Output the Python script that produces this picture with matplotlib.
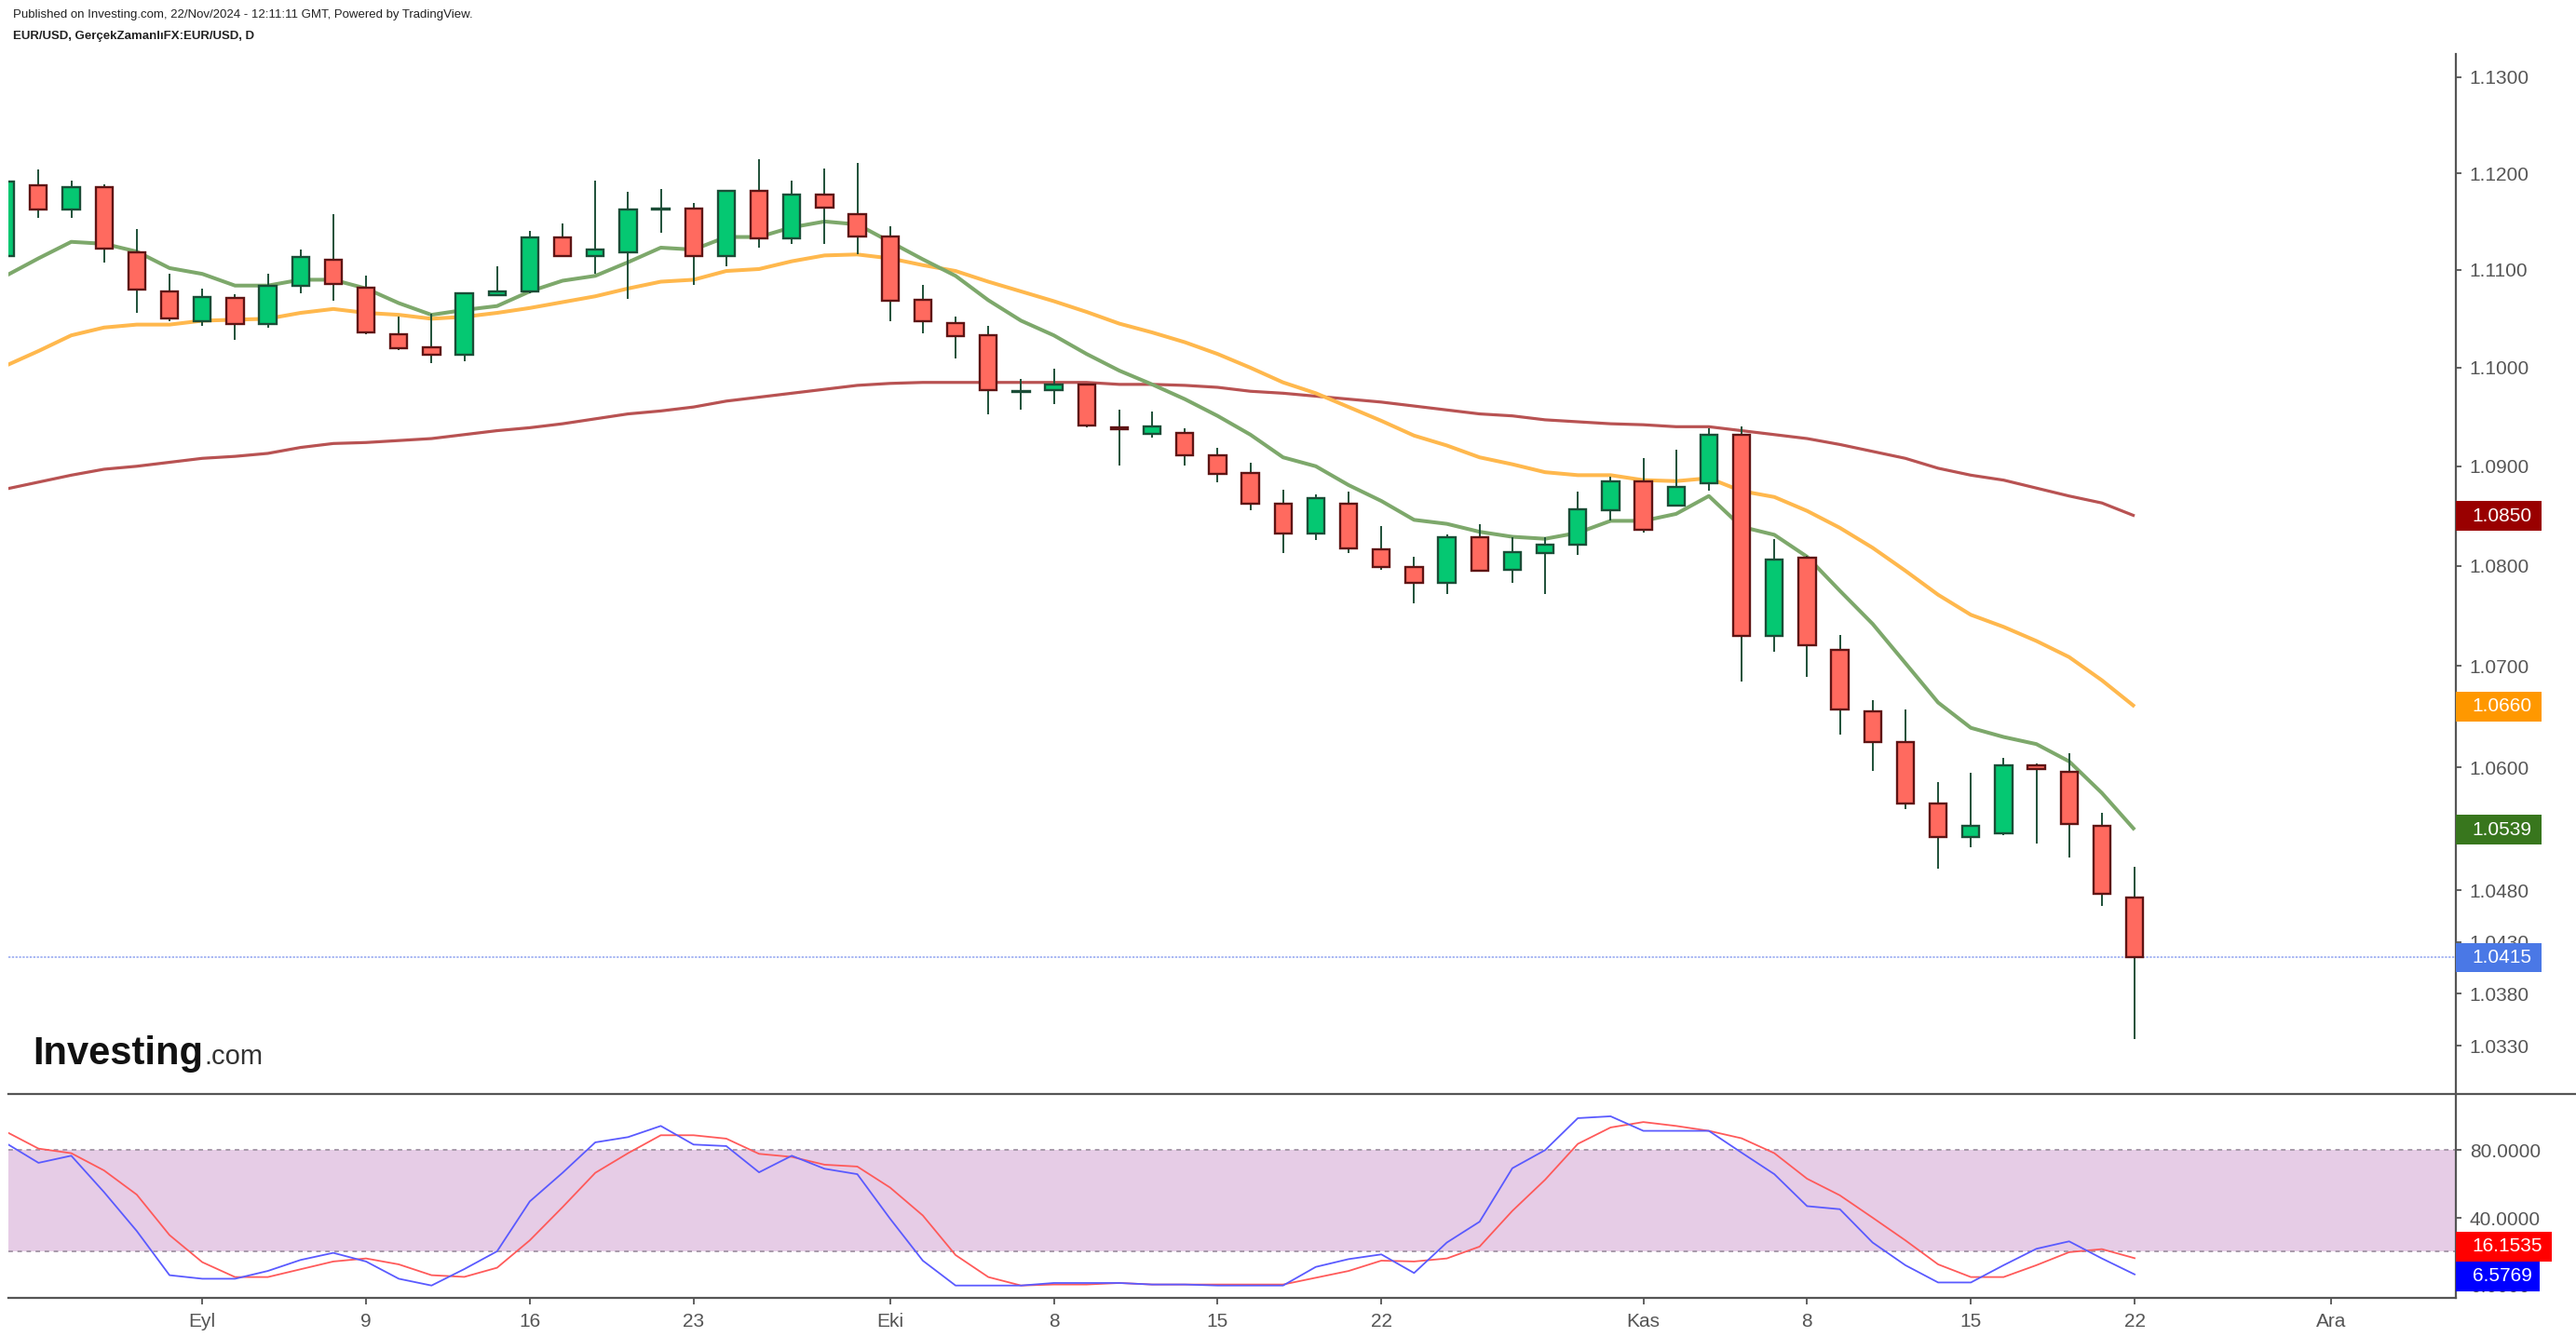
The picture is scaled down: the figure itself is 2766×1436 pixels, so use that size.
import numpy as np
import pandas as pd
import matplotlib
matplotlib.use('Agg')
from matplotlib import pyplot as plt
from matplotlib import font_manager
from matplotlib.patches import Rectangle
from matplotlib.lines import Line2D
from matplotlib.ticker import FixedLocator, FuncFormatter, NullLocator

names = {f.name for f in font_manager.fontManager.ttflist}
narrow = 'Liberation Sans Narrow' if 'Liberation Sans Narrow' in names else 'Liberation Sans'
plt.rcParams['font.family'] = ['Liberation Sans', 'DejaVu Sans']

# EUR/USD daily candles, 23 Aug - 22 Nov 2024 (weekdays)
opens = [1.1114, 1.1187, 1.1162, 1.1186, 1.1118, 1.1078,
         1.1047, 1.1071, 1.1045, 1.1084, 1.1111,
         1.1082, 1.1034, 1.1021, 1.1013, 1.1074,
         1.1078, 1.1134, 1.1114, 1.1118, 1.1162,
         1.1163, 1.1114, 1.1182, 1.1133, 1.1178,
         1.1158, 1.1135, 1.1069, 1.1046, 1.1033,
         1.0975, 1.0977, 1.0983, 1.0939, 1.0933,
         1.0934, 1.0911, 1.0893, 1.0862, 1.0832,
         1.0862, 1.0816, 1.0799, 1.0783, 1.0829,
         1.0796, 1.0813, 1.0821, 1.0856, 1.0885,
         1.0860, 1.0883, 1.0932, 1.0730, 1.0808,
         1.0716, 1.0655, 1.0625, 1.0565, 1.0532,
         1.0536, 1.0602, 1.0596, 1.0543, 1.0473]
highs = [1.1200, 1.1204, 1.1192, 1.1188, 1.1142, 1.1096,
         1.1081, 1.1075, 1.1096, 1.1121, 1.1158,
         1.1094, 1.1052, 1.1055, 1.1077, 1.1104,
         1.1140, 1.1148, 1.1192, 1.1181, 1.1184,
         1.1169, 1.1183, 1.1215, 1.1192, 1.1205,
         1.1211, 1.1145, 1.1085, 1.1052, 1.1043,
         1.0989, 1.0999, 1.0984, 1.0957, 1.0955,
         1.0938, 1.0919, 1.0904, 1.0876, 1.0872,
         1.0874, 1.0840, 1.0809, 1.0831, 1.0842,
         1.0829, 1.0829, 1.0874, 1.0889, 1.0908,
         1.0917, 1.0938, 1.0940, 1.0827, 1.0810,
         1.0731, 1.0666, 1.0657, 1.0586, 1.0595,
         1.0609, 1.0604, 1.0614, 1.0556, 1.0503]
lows = [1.1105, 1.1154, 1.1154, 1.1108, 1.1056, 1.1047,
        1.1043, 1.1028, 1.1041, 1.1076, 1.1068,
        1.1034, 1.1018, 1.1005, 1.1007, 1.1074,
        1.1076, 1.1113, 1.1096, 1.1070, 1.1138,
        1.1085, 1.1104, 1.1123, 1.1127, 1.1127,
        1.1116, 1.1047, 1.1035, 1.1009, 1.0953,
        1.0957, 1.0963, 1.0939, 1.0901, 1.0929,
        1.0901, 1.0884, 1.0856, 1.0813, 1.0826,
        1.0813, 1.0796, 1.0762, 1.0772, 1.0795,
        1.0783, 1.0772, 1.0811, 1.0845, 1.0833,
        1.0860, 1.0875, 1.0685, 1.0714, 1.0689,
        1.0632, 1.0597, 1.0559, 1.0501, 1.0522,
        1.0534, 1.0526, 1.0512, 1.0465, 1.0337]
closes = [1.1191, 1.1162, 1.1186, 1.1122, 1.1080, 1.1050,
          1.1072, 1.1045, 1.1084, 1.1113, 1.1086,
          1.1036, 1.1020, 1.1013, 1.1076, 1.1078,
          1.1134, 1.1114, 1.1121, 1.1162, 1.1163,
          1.1114, 1.1182, 1.1133, 1.1178, 1.1164,
          1.1135, 1.1068, 1.1047, 1.1032, 1.0977,
          1.0976, 1.0983, 1.0941, 1.0937, 1.0940,
          1.0911, 1.0892, 1.0862, 1.0832, 1.0868,
          1.0817, 1.0799, 1.0783, 1.0829, 1.0795,
          1.0814, 1.0821, 1.0857, 1.0885, 1.0836,
          1.0879, 1.0932, 1.0730, 1.0806, 1.0721,
          1.0657, 1.0625, 1.0565, 1.0532, 1.0543,
          1.0602, 1.0598, 1.0545, 1.0477, 1.0415]

# moving averages
ma_short = [1.1094, 1.1112, 1.1129, 1.1127, 1.1119, 1.1102,
            1.1096, 1.1084, 1.1084, 1.1090, 1.1090,
            1.1081, 1.1066, 1.1054, 1.1059, 1.1063,
            1.1078, 1.1089, 1.1094, 1.1108, 1.1123,
            1.1121, 1.1134, 1.1134, 1.1144, 1.1150,
            1.1147, 1.1129, 1.1111, 1.1094, 1.1069,
            1.1048, 1.1033, 1.1014, 1.0997, 1.0983,
            1.0968, 1.0951, 1.0932, 1.0909, 1.0900,
            1.0881, 1.0865, 1.0846, 1.0842, 1.0834,
            1.0829, 1.0827, 1.0833, 1.0845, 1.0845,
            1.0852, 1.0870, 1.0839, 1.0831, 1.0809,
            1.0775, 1.0742, 1.0703, 1.0664, 1.0639,
            1.0630, 1.0623, 1.0606, 1.0575, 1.0539]
ma_mid = [1.1002, 1.1017, 1.1033, 1.1041, 1.1044, 1.1044,
          1.1048, 1.1049, 1.1050, 1.1056, 1.1060,
          1.1056, 1.1054, 1.1050, 1.1052, 1.1056,
          1.1061, 1.1067, 1.1073, 1.1081, 1.1088,
          1.1090, 1.1099, 1.1101, 1.1109, 1.1115,
          1.1116, 1.1112, 1.1105, 1.1099, 1.1088,
          1.1078, 1.1068, 1.1057, 1.1045, 1.1036,
          1.1026, 1.1014, 1.1000, 1.0985, 1.0974,
          1.0960, 1.0946, 1.0931, 1.0921, 1.0909,
          1.0902, 1.0894, 1.0891, 1.0891, 1.0886,
          1.0885, 1.0888, 1.0875, 1.0869, 1.0855,
          1.0838, 1.0818, 1.0795, 1.0771, 1.0751,
          1.0739, 1.0725, 1.0709, 1.0686, 1.0660]
ma_long = [1.0877, 1.0884, 1.0891, 1.0897, 1.0900, 1.0904,
           1.0908, 1.0910, 1.0913, 1.0919, 1.0923,
           1.0924, 1.0926, 1.0928, 1.0932, 1.0936,
           1.0939, 1.0943, 1.0948, 1.0953, 1.0956,
           1.0960, 1.0966, 1.0970, 1.0974, 1.0978,
           1.0982, 1.0984, 1.0985, 1.0985, 1.0985,
           1.0985, 1.0985, 1.0985, 1.0983, 1.0983,
           1.0982, 1.0980, 1.0976, 1.0974, 1.0971,
           1.0968, 1.0965, 1.0961, 1.0957, 1.0953,
           1.0951, 1.0947, 1.0945, 1.0943, 1.0942,
           1.0940, 1.0940, 1.0936, 1.0932, 1.0928,
           1.0922, 1.0915, 1.0908, 1.0898, 1.0891,
           1.0886, 1.0878, 1.0870, 1.0863, 1.0850]

# stochastic %K / %D
stoch_k = [84.2, 72.5, 76.7, 55.2, 32.2, 6.1,
           4.0, 4.0, 8.6, 15.1, 19.3,
           14.2, 4.0, 0.0, 9.7, 20.2,
           49.7, 66.6, 84.6, 87.7, 94.3,
           83.3, 82.4, 66.9, 76.7, 69.0,
           65.8, 39.5, 14.7, 0.0, 0.0,
           0.0, 1.5, 1.5, 1.5, 0.6,
           0.6, 0.0, 0.0, 0.0, 11.0,
           15.6, 18.4, 7.4, 25.4, 37.7,
           69.3, 80.0, 98.9, 100.0, 91.4,
           91.4, 91.4, 78.5, 65.8, 46.9,
           45.1, 25.4, 12.0, 1.8, 1.8,
           12.0, 21.7, 26.1, 16.0, 6.5769]
stoch_d = [91.0, 80.9, 78.2, 68.0, 53.7, 29.8,
           13.8, 5.0, 5.0, 9.6, 14.2,
           16.0, 12.5, 6.1, 5.1, 10.5,
           26.7, 46.3, 66.6, 78.2, 88.8,
           88.8, 86.8, 77.8, 76.0, 71.4,
           70.3, 57.9, 41.4, 18.0, 5.0,
           0.0, 0.6, 0.6, 1.5, 0.6,
           0.6, 0.6, 0.6, 0.6, 4.6,
           8.6, 14.7, 14.2, 16.0, 23.0,
           44.1, 62.5, 83.7, 93.4, 96.6,
           94.3, 91.4, 87.0, 78.2, 63.1,
           53.3, 40.1, 26.7, 12.5, 5.0,
           5.0, 12.0, 19.7, 21.5, 16.1535]

price_ticks = [1.13, 1.12, 1.11, 1.10, 1.09, 1.08, 1.07, 1.06, 1.048, 1.043, 1.038, 1.033]
stoch_ticks = [80, 40, 0]
tick_dates = ['2024-09-02', '2024-09-09', '2024-09-16', '2024-09-23', '2024-10-01',
              '2024-10-08', '2024-10-15', '2024-10-22', '2024-11-01', '2024-11-08',
              '2024-11-15', '2024-11-22', '2024-12-02']
tick_labels = ['Eyl', '9', '16', '23', 'Eki', '8', '15', '22', 'Kas', '8', '15', '22', 'Ara']

# colours
up_fill, up_edge = '#05C872', '#1B4D37'
dn_fill, dn_edge = '#FF6A5F', '#5E1414'
wick_col = '#1E5038'
axis_col = '#555555'

days = pd.bdate_range('2024-08-23', periods=len(closes))
axis_days = pd.bdate_range('2024-08-23', '2024-12-31')
x = np.arange(len(days))
tick_pos = [axis_days.get_loc(pd.Timestamp(d)) for d in tick_dates]

o = np.array(opens)
h = np.array(highs)
l = np.array(lows)
c = np.array(closes)
up = c >= o

fig = plt.figure(figsize=(27.66, 14.36), dpi=100)
L, W = 0.00319, 0.95019
ax = fig.add_axes([L, 0.18204, W, 0.77737])
ax2 = fig.add_axes([L, 0.02952, W, 0.15252])

# ---- price panel
ax.set_yscale('log')
ax.axhline(closes[-1], color='#8FA3F0', lw=1.1, ls=(0, (1.5, 1)), zorder=1.5)
ax.plot(x, ma_long, color='#B85252', lw=2.3, zorder=2, solid_capstyle='butt')
ax.plot(x, ma_mid, color='#FFB84D', lw=2.9, zorder=2, solid_capstyle='butt')
ax.plot(x, ma_short, color='#7DA86B', lw=2.9, zorder=2, solid_capstyle='butt')
ax.vlines(x, l, h, color=wick_col, lw=1.4, zorder=3)
ax.bar(x[up], (c - o)[up], bottom=o[up], width=0.52, color=up_fill,
       edgecolor=up_edge, linewidth=1.7, zorder=4)
ax.bar(x[~up], (o - c)[~up], bottom=c[~up], width=0.52, color=dn_fill,
       edgecolor=dn_edge, linewidth=1.7, zorder=4)

ylo, yhi = 1.02845, 1.13241
ax.set_xlim(0.075, 74.81)
ax.set_ylim(ylo, yhi)
ax.yaxis.set_major_locator(FixedLocator(price_ticks))
ax.yaxis.set_minor_locator(NullLocator())
ax.yaxis.set_major_formatter(FuncFormatter(lambda v, p: f'{v:.4f}'))
ax.tick_params(axis='y', which='both', left=False, labelleft=False, right=True,
               labelright=True, length=4.5, width=1.3, pad=6, labelsize=15,
               color=axis_col, labelcolor=axis_col)
ax.tick_params(axis='x', bottom=False, labelbottom=False)
for s in ['left', 'top', 'bottom']:
    ax.spines[s].set_visible(False)
ax.spines['right'].set_color(axis_col)
ax.spines['right'].set_linewidth(1.6)


def frac_log(v):
    return (np.log(v) - np.log(ylo)) / (np.log(yhi) - np.log(ylo))


price_tags = [(ma_long[-1], '#990000'), (ma_mid[-1], '#FF9800'),
              (ma_short[-1], '#38761D'), (closes[-1], '#4A78E6')]
for val, col in price_tags:
    f = frac_log(val)
    ax.add_patch(Rectangle((1.0, f - 0.0141), 0.0349, 0.0282, transform=ax.transAxes,
                           facecolor=col, edgecolor='none', clip_on=False, zorder=5))
    ax.text(1.0067, f, f'{val:.4f}', transform=ax.transAxes, ha='left', va='center',
            color='white', fontsize=15, zorder=6, clip_on=False)

# ---- stochastic panel
slo, shi = -7.1, 113.4
ax2.axhspan(20, 80, facecolor='#E6CCE6', edgecolor='none', zorder=0)
for lvl in (80, 20):
    ax2.axhline(lvl, color='#A89AAB', lw=1.4, ls=(0, (2.5, 2.5)), zorder=1)
ax2.plot(x, stoch_d, color='#FF5A5A', lw=1.3, zorder=3)
ax2.plot(x, stoch_k, color='#5A5AFF', lw=1.3, zorder=3)
ax2.set_xlim(0.075, 74.81)
ax2.set_ylim(slo, shi)
ax2.yaxis.set_major_locator(FixedLocator(stoch_ticks))
ax2.yaxis.set_major_formatter(FuncFormatter(lambda v, p: f'{v:.4f}'))
ax2.tick_params(axis='y', left=False, labelleft=False, right=True, labelright=True,
                length=4.5, width=1.3, pad=6, labelsize=15, color=axis_col,
                labelcolor=axis_col)
ax2.set_xticks(tick_pos)
ax2.set_xticklabels(tick_labels)
ax2.tick_params(axis='x', length=5, width=1.3, pad=7, labelsize=15, color=axis_col,
                labelcolor=axis_col)
for s in ['left', 'top']:
    ax2.spines[s].set_visible(False)
for s in ['right', 'bottom']:
    ax2.spines[s].set_color(axis_col)
    ax2.spines[s].set_linewidth(1.6)

stoch_tags = [(stoch_d[-1], '#FF0000', 23.0, 0.039), (stoch_k[-1], '#0000FF', 5.5, 0.0343)]
for val, col, ypos, bw in stoch_tags:
    f = (ypos - slo) / (shi - slo)
    ax2.add_patch(Rectangle((1.0, f - 0.0729), bw, 0.1457, transform=ax2.transAxes,
                            facecolor=col, edgecolor='none', clip_on=False, zorder=5))
    ax2.text(1.0067, f, f'{val:.4f}', transform=ax2.transAxes, ha='left', va='center',
             color='white', fontsize=15, zorder=6, clip_on=False)

# separator between panels runs to the right edge
fig.add_artist(Line2D([L, 1.0], [0.18204, 0.18204], transform=fig.transFigure,
                      color=axis_col, lw=1.6))

# header + logo
hsize = 11.7 if narrow != 'Liberation Sans' else 9.5
fig.text(0.0051, 0.9889, 'Published on Investing.com, 22/Nov/2024 - 12:11:11 GMT, Powered by TradingView.',
         family=narrow, fontsize=hsize, color='#222222', va='center')
fig.text(0.0051, 0.9729, 'EUR/USD, GerçekZamanlıFX:EUR/USD, D', family=narrow,
         fontsize=hsize, fontweight='bold', color='#222222', va='center')
logo = fig.text(0.01277, 0.2042, 'Investing', fontsize=30, fontweight='bold',
                color='#111111', va='baseline')
fig.text(0, 0, '')
plt.annotate('.com', xy=(1.0, 0.2042), xycoords=(logo, 'figure fraction'),
             xytext=(1, 0), textcoords='offset points', fontsize=21, color='#333333',
             va='baseline', ha='left', annotation_clip=False)

fig.savefig('out.png', dpi=100)
